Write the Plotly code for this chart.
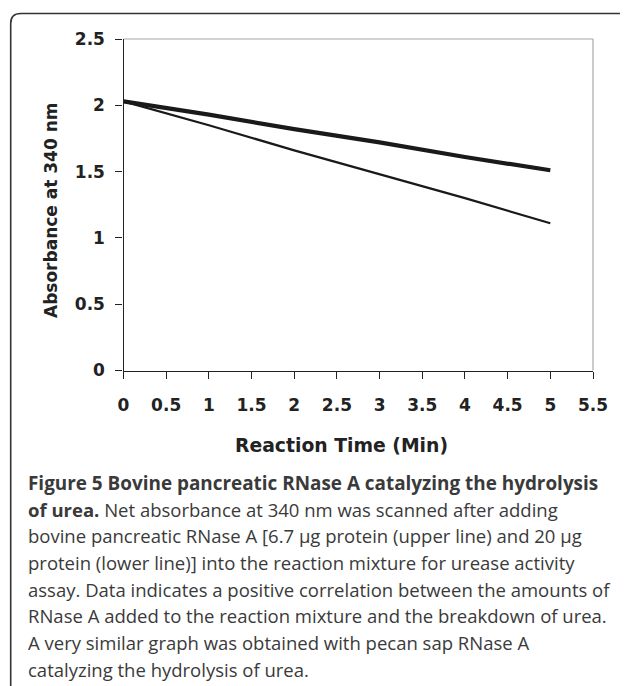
import plotly.graph_objects as go

# The page adds an 8px body margin; the figure is sized so that it fills the
# remaining viewport, and reference pixel positions are converted accordingly.
OFF = 8
W, H = 628 - OFF, 686 - OFF

time_min = [0, 1, 2, 3, 4, 5]
upper_67ug = [2.03, 1.93, 1.82, 1.72, 1.61, 1.51]
lower_20ug = [2.03, 1.85, 1.66, 1.48, 1.30, 1.11]

x_title = "Reaction Time (Min)"
y_title = "Absorbance at 340 nm"
caption_lines = [
    "<b>Figure 5 Bovine pancreatic RNase A catalyzing the hydrolysis</b>",
    "<b>of urea.</b> Net absorbance at 340 nm was scanned after adding",
    "bovine pancreatic RNase A [6.7 µg protein (upper line) and 20 µg",
    "protein (lower line)] into the reaction mixture for urease activity",
    "assay. Data indicates a positive correlation between the amounts of",
    "RNase A added to the reaction mixture and the breakdown of urea.",
    "A very similar graph was obtained with pecan sap RNase A",
    "catalyzing the hydrolysis of urea.",
]


def px(x):
    return (x - OFF) / W


def py(y):
    return 1 - (y - OFF) / H


fig = go.Figure()
fig.add_trace(go.Scatter(x=time_min, y=upper_67ug, mode="lines",
                         line=dict(color="#1a1a1a", width=4.2), showlegend=False))
fig.add_trace(go.Scatter(x=time_min, y=lower_20ug, mode="lines",
                         line=dict(color="#1a1a1a", width=2.2), showlegend=False))

tickfont = dict(family="DejaVu Sans", size=17, color="#222222", weight="bold")

fig.update_layout(
    width=W, height=H,
    margin=dict(l=0, r=0, t=0, b=0),
    paper_bgcolor="white", plot_bgcolor="white",
    xaxis=dict(domain=[px(123.5), px(593)], range=[0, 5.5], dtick=0.5, tick0=0,
               showgrid=False, zeroline=False, showline=True, linecolor="#222222",
               linewidth=1.3, ticks="outside", ticklen=7, tickcolor="#222222",
               tickwidth=1.3, tickfont=tickfont, ticklabelstandoff=12,
               automargin=False, fixedrange=True),
    yaxis=dict(domain=[py(370.5), py(39)], range=[0, 2.5], dtick=0.5, tick0=0,
               showgrid=False, zeroline=False, showline=True, linecolor="#222222",
               linewidth=1.3, ticks="outside", ticklen=7, tickcolor="#222222",
               tickwidth=1.3, tickfont=tickfont, ticklabelstandoff=7,
               automargin=False, fixedrange=True),
)

# light gray top and right borders of plot area
fig.add_shape(type="line", xref="x domain", yref="y domain", x0=0, x1=1, y0=1, y1=1,
              line=dict(color="#a8a8a8", width=1.2), layer="below")
fig.add_shape(type="line", xref="x domain", yref="y domain", x0=1, x1=1, y0=0, y1=1,
              line=dict(color="#a8a8a8", width=1.2), layer="below")

# rounded outer frame
r = 10
L, T = 10.7, 13.5
path = (f"M {px(L)},{py(720)} L {px(L)},{py(T + r)} "
        f"Q {px(L)},{py(T)} {px(L + r)},{py(T)} L {px(660)},{py(T)}")
fig.add_shape(type="path", xref="paper", yref="paper", path=path,
              line=dict(color="#333333", width=1.6))

fig.add_annotation(text=x_title, xref="paper", yref="paper", x=px(341), y=py(445),
                   xanchor="center", yanchor="middle", showarrow=False,
                   font=dict(family="DejaVu Sans", size=18.8, color="#222222", weight="bold"))
fig.add_annotation(text=y_title, xref="paper", yref="paper", x=px(51), y=py(210),
                   xanchor="center", yanchor="middle", textangle=-90, showarrow=False,
                   font=dict(family="DejaVu Sans", size=17.0, color="#222222", weight="bold"))

base0 = 489
step = 26.65
for i, line in enumerate(caption_lines):
    size = 18.9 if i == 0 else 18.5
    fig.add_annotation(text=line, xref="paper", yref="paper", x=px(25.5),
                       y=py(base0 + i * step - 6.5), xanchor="left", yanchor="middle",
                       showarrow=False, align="left",
                       font=dict(family="Open Sans", size=size, color="#3a3a3a"))

fig.write_html("out.html")
